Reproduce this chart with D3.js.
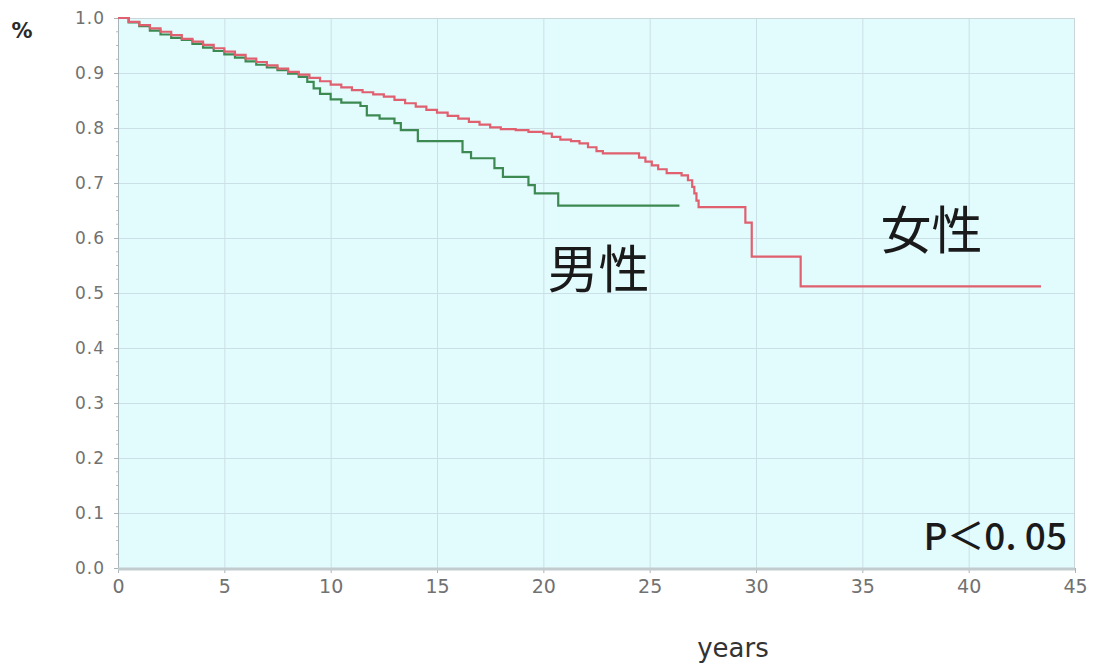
<!DOCTYPE html>
<html>
<head>
<meta charset="utf-8">
<script src="https://cdn.jsdelivr.net/npm/d3@7"></script>
<style>
  html, body { margin: 0; padding: 0; background: #fff; }
  svg { display: block; }
</style>
</head>
<body>
<svg id="chart" width="1096" height="669"></svg>
<script>
// Kaplan–Meier survival estimates by sex (time in years, cumulative survival)
const femaleTimes = [0, 0.5, 1, 1.5, 2, 2.5, 3, 3.5, 4, 4.5, 5, 5.5, 6, 6.5, 7, 7.5, 8, 8.5, 9, 9.5,
  10, 10.5, 11, 11.5, 12, 12.5, 13, 13.5, 14, 14.5, 15, 15.5, 16, 16.5, 17, 17.5, 18, 18.7, 19.3, 20,
  20.4, 20.8, 21.3, 21.7, 22.1, 22.5, 22.8, 24.5, 24.8, 25.1, 25.4, 25.8, 26.5, 26.8, 27.0, 27.1, 27.2,
  27.3, 29.5, 29.8, 32.1, 43.4];
const femaleSurv = [1.0, 0.993, 0.987, 0.981, 0.975, 0.969, 0.962, 0.957, 0.951, 0.945, 0.939, 0.933,
  0.926, 0.920, 0.914, 0.908, 0.902, 0.897, 0.891, 0.885, 0.879, 0.874, 0.869, 0.865, 0.861, 0.857,
  0.851, 0.845, 0.839, 0.833, 0.828, 0.822, 0.817, 0.811, 0.806, 0.801, 0.798, 0.796, 0.793, 0.790,
  0.784, 0.779, 0.776, 0.772, 0.765, 0.758, 0.754, 0.746, 0.739, 0.732, 0.725, 0.718, 0.714, 0.705,
  0.693, 0.681, 0.668, 0.656, 0.628, 0.566, 0.512, 0.512];

const maleTimes = [0, 0.5, 1, 1.5, 2, 2.5, 3, 3.5, 4, 4.5, 5, 5.5, 6, 6.5, 7, 7.5, 8, 8.5, 8.9, 9.2,
  9.5, 10, 10.5, 11.4, 11.7, 12.3, 13.0, 13.3, 14.1, 16.2, 16.6, 17.7, 18.1, 19.3, 19.6, 20.7, 26.4];
const maleSurv = [1.0, 0.992, 0.985, 0.977, 0.970, 0.964, 0.960, 0.953, 0.946, 0.940, 0.934, 0.928,
  0.921, 0.915, 0.910, 0.905, 0.899, 0.893, 0.884, 0.872, 0.862, 0.852, 0.846, 0.840, 0.823, 0.817,
  0.809, 0.796, 0.776, 0.756, 0.745, 0.727, 0.711, 0.696, 0.681, 0.659, 0.659];

const xTicks = [0, 5, 10, 15, 20, 25, 30, 35, 40, 45];
const yTicks = [0, 0.1, 0.2, 0.3, 0.4, 0.5, 0.6, 0.7, 0.8, 0.9, 1.0];

const seriesLabels = ["女性", "男性"];
const pValueText = "P＜0. 05";
const xAxisTitle = "years";
const yAxisTitle = "%";

// Layout
const plot = { left: 118, right: 1075, top: 18, bottom: 568 };
const svg = d3.select("#chart");

const x = d3.scaleLinear().domain([0, 45]).range([plot.left, plot.right]);
const y = d3.scaleLinear().domain([0, 1]).range([plot.bottom, plot.top]);

// Plot background
svg.append("rect")
  .attr("x", plot.left).attr("y", plot.top)
  .attr("width", plot.right - plot.left).attr("height", plot.bottom - plot.top)
  .attr("fill", "#e2fbfd");

// Grid lines
const grid = svg.append("g").attr("stroke", "#cbe0e6").attr("stroke-width", 1);
grid.selectAll("line.v").data(xTicks.slice(1, -1)).join("line")
  .attr("x1", d => x(d) + 0.5).attr("x2", d => x(d) + 0.5)
  .attr("y1", plot.top).attr("y2", plot.bottom);
grid.selectAll("line.h").data(yTicks.slice(1, -1)).join("line")
  .attr("x1", plot.left).attr("x2", plot.right)
  .attr("y1", d => Math.round(y(d)) + 0.5).attr("y2", d => Math.round(y(d)) + 0.5);

// Frame
svg.append("rect")
  .attr("x", plot.left + 0.5).attr("y", plot.top + 0.5)
  .attr("width", plot.right - plot.left - 1).attr("height", plot.bottom - plot.top)
  .attr("fill", "none").attr("stroke", "#c9d6da");

// Y axis
const yAxis = d3.axisLeft(y).tickValues(yTicks).tickFormat(d3.format(".1f")).tickSize(4).tickPadding(9);
const gy = svg.append("g").attr("transform", `translate(${plot.left},0)`).call(yAxis);
gy.attr("font-size", null).attr("font-family", null);
gy.select(".domain").attr("stroke", "#a8b4b8");
gy.selectAll(".tick line").attr("stroke", "#a8b4b8");
gy.selectAll(".tick text")
  .attr("fill", "#717171")
  .attr("font-family", "'DejaVu Sans', Verdana, sans-serif")
  .attr("font-size", 17)
  .attr("letter-spacing", 1);

// Minor y ticks
const yMinor = d3.range(0, 1.0001, 0.025).filter(v => Math.abs(v * 10 - Math.round(v * 10)) > 1e-6);
svg.append("g").selectAll("line").data(yMinor).join("line")
  .attr("x1", plot.left - 2).attr("x2", plot.left)
  .attr("y1", d => y(d)).attr("y2", d => y(d))
  .attr("stroke", "#b4bec2");

// X axis
const xAxis = d3.axisBottom(x).tickValues(xTicks).tickSize(5).tickPadding(7);
const gx = svg.append("g").attr("transform", `translate(0,${plot.bottom})`).call(xAxis);
gx.attr("font-size", null).attr("font-family", null);
gx.select(".domain").remove();
gx.selectAll(".tick line").attr("stroke", "#a8b4b8");
gx.selectAll(".tick text")
  .attr("fill", "#717171")
  .attr("font-family", "'DejaVu Sans', sans-serif")
  .attr("font-size", 19);

// Bottom axis band
svg.append("line")
  .attr("x1", plot.left).attr("x2", plot.right)
  .attr("y1", plot.bottom + 1).attr("y2", plot.bottom + 1)
  .attr("stroke", "#c2cccf").attr("stroke-width", 3);

// Survival step curves
const line = d3.line()
  .x(d => x(d[0]))
  .y(d => y(d[1]))
  .curve(d3.curveStepAfter);

const female = femaleTimes.map((t, i) => [t, femaleSurv[i]]);
const male = maleTimes.map((t, i) => [t, maleSurv[i]]);

svg.append("path").datum(male)
  .attr("d", line)
  .attr("fill", "none")
  .attr("stroke", "#3c8a52")
  .attr("stroke-width", 2.2);

svg.append("path").datum(female)
  .attr("d", line)
  .attr("fill", "none")
  .attr("stroke", "#e0606f")
  .attr("stroke-width", 2.2);

// Series labels
const cjk = "'Noto Sans CJK JP', 'Noto Sans CJK SC', sans-serif";
svg.append("text")
  .attr("x", x(38.25)).attr("y", y(0.58))
  .attr("text-anchor", "middle")
  .style("font-family", cjk).style("font-size", "51px").attr("fill", "#1a1a1a")
  .text(seriesLabels[0]);
svg.append("text")
  .attr("x", x(22.6)).attr("y", y(0.51))
  .attr("text-anchor", "middle")
  .style("font-family", cjk).style("font-size", "51px").attr("fill", "#1a1a1a")
  .text(seriesLabels[1]);

// p-value
svg.append("text")
  .attr("x", 1067).attr("y", 550)
  .attr("text-anchor", "end")
  .style("font-family", cjk).style("font-size", "37px").style("font-weight", 500).attr("fill", "#1a1a1a")
  .text(pValueText);

// Axis titles
svg.append("text")
  .attr("x", 733).attr("y", 657)
  .attr("text-anchor", "middle")
  .style("font-family", "'DejaVu Sans', sans-serif")
  .style("font-size", "26px").attr("fill", "#333")
  .text(xAxisTitle);

svg.append("text")
  .attr("x", 22).attr("y", 38)
  .attr("text-anchor", "middle")
  .style("font-family", "'DejaVu Sans', sans-serif")
  .style("font-weight", "bold")
  .style("font-size", "21px").attr("fill", "#2a2a2a")
  .text(yAxisTitle);
</script>
</body>
</html>
